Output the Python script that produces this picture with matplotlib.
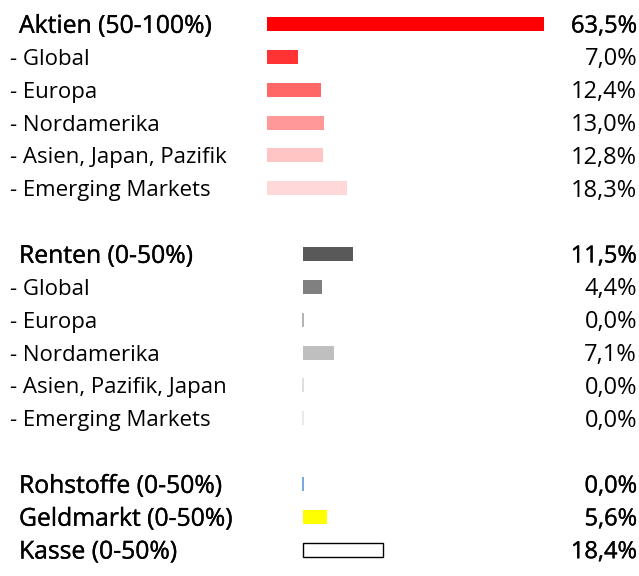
import matplotlib
matplotlib.use("Agg")
import matplotlib.pyplot as plt
import matplotlib.patheffects as pe

labels = ["Aktien (50-100%)", "- Global", "- Europa", "- Nordamerika",
          "- Asien, Japan, Pazifik", "- Emerging Markets",
          "Renten (0-50%)", "- Global", "- Europa", "- Nordamerika",
          "- Asien, Pazifik, Japan", "- Emerging Markets",
          "Rohstoffe (0-50%)", "Geldmarkt (0-50%)", "Kasse (0-50%)"]
values = [63.5, 7.0, 12.4, 13.0, 12.8, 18.3,
          11.5, 4.4, 0.0, 7.1, 0.0, 0.0,
          0.0, 5.6, 18.4]
is_header = [True, False, False, False, False, False,
             True, False, False, False, False, False,
             True, True, True]
group = [0, 0, 0, 0, 0, 0, 1, 1, 1, 1, 1, 1, 1, 1, 1]
slots = [0, 1, 2, 3, 4, 5, 7, 8, 9, 10, 11, 12, 14, 15, 16]
colors = ["#FF0000", "#FF3333", "#FF6666", "#FF9999", "#FFC4C4", "#FFD9D9",
          "#595959", "#808080", "#A6A6A6", "#BFBFBF", "#D9D9D9", "#E6E6E6",
          "#5B9BD5", "#FFFF00", "#FFFFFF"]
edges = [None] * 14 + ["#000000"]

FONT = ["Open Sans", "DejaVu Sans"]
W, H = 639, 576
fig = plt.figure(figsize=(W / 100, H / 100), dpi=100)

x0, x1 = 267, 544
step = 32.86
y_top, y_bot = 24 - 0.5 * step, 24 + 16.5 * step
ax = fig.add_axes([x0 / W, 1 - y_bot / H, (x1 - x0) / W, (y_bot - y_top) / H])
ax.set_xlim(0, 63.5)
ax.set_ylim(16.5, -0.5)
ax.axis("off")

group_offset = [0.0, 36 / ((x1 - x0) / 63.5)]
bar_h = 14 / step
bold_fx = [pe.Stroke(linewidth=0.25, foreground="#000000"), pe.Normal()]

for lab, v, hdr, g, s, c, e in zip(labels, values, is_header, group, slots, colors, edges):
    left = group_offset[g]
    if v == 0:
        ax.bar(left, bar_h, width=0, bottom=s - bar_h / 2, edgecolor=c, linewidth=1.2,
               align="edge")
    else:
        ax.barh(s, v, left=left, height=bar_h, color=c,
                edgecolor=e if e else c, linewidth=1.0 if e else 0)
    fs_lab = 17.8 if hdr else 16
    fs_val = 17
    fx = bold_fx if hdr else None
    yc = 24 + s * step
    ylab = 1 - (yc + 0.357 * fs_lab * 100 / 72) / H
    yval = 1 - (yc + 0.357 * fs_val * 100 / 72) / H
    fig.text((19 if hdr else 10) / W, ylab, lab, ha="left", va="baseline",
             fontsize=fs_lab, family=FONT, color="#000000", path_effects=fx)
    fig.text(637 / W, yval, f"{v:.1f}%".replace(".", ","), ha="right", va="baseline",
             fontsize=fs_val, family=FONT, color="#000000", path_effects=fx)

fig.savefig("out.png", dpi=100)
